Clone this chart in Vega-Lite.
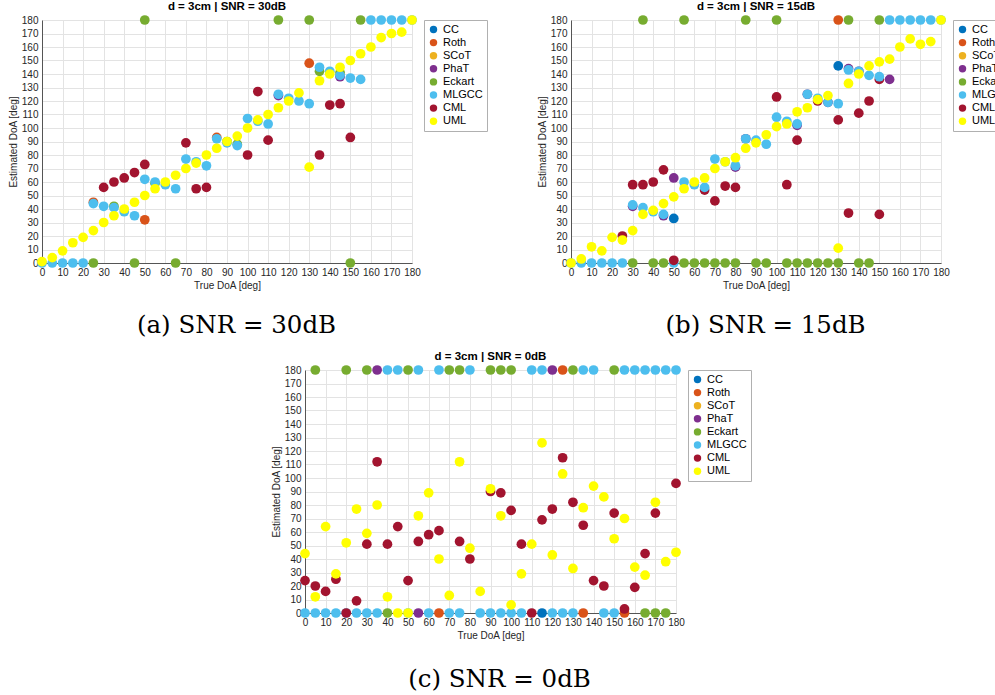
{
  "$schema": "https://vega.github.io/schema/vega-lite/v6.json",
  "background": "white",
  "padding": {"left": 8, "top": 0, "right": 0, "bottom": 0},
  "config": {
    "view": {"stroke": null},
    "font": "Liberation Sans",
    "axis": {"labelFont": "Liberation Sans", "labelFontSize": 10, "labelColor": "#262626", "titleFont": "Liberation Sans", "titleFontSize": 10, "titleFontWeight": "normal", "titleColor": "#262626", "gridColor": "#e3e3e3", "domainColor": "#555555", "ticks": false, "labelPadding": 4, "labelOverlap": false, "labelFlush": false},
    "axisX": {"titlePadding": 3},
    "axisY": {"titlePadding": 3},
    "title": {"font": "Liberation Sans", "fontSize": 11.5, "fontWeight": "bold", "color": "#000000", "offset": 3, "frame": "group"},
    "legend": {"orient": "right", "offset": 12, "padding": 4, "strokeColor": "#b0b0b0", "fillColor": "white", "labelFont": "Liberation Sans", "labelFontSize": 11, "labelColor": "#000000", "symbolSize": 55, "symbolType": "circle", "rowPadding": 1.1, "title": null}
  },
  "datasets": {
    "a": [
      {"m": "Roth", "x": 25, "y": 45}, {"m": "Roth", "x": 50, "y": 32}, {"m": "Roth", "x": 85, "y": 93}, {"m": "Roth", "x": 130, "y": 148},
      {"m": "PhaT", "x": 115, "y": 124}, {"m": "PhaT", "x": 145, "y": 138},
      {"m": "Eckart", "x": 25, "y": 0}, {"m": "Eckart", "x": 35, "y": 42}, {"m": "Eckart", "x": 45, "y": 0}, {"m": "Eckart", "x": 50, "y": 180}, {"m": "Eckart", "x": 55, "y": 59}, {"m": "Eckart", "x": 65, "y": 0}, {"m": "Eckart", "x": 90, "y": 90}, {"m": "Eckart", "x": 95, "y": 88}, {"m": "Eckart", "x": 115, "y": 180}, {"m": "Eckart", "x": 130, "y": 180}, {"m": "Eckart", "x": 135, "y": 142}, {"m": "Eckart", "x": 145, "y": 141}, {"m": "Eckart", "x": 150, "y": 0}, {"m": "Eckart", "x": 155, "y": 180},
      {"m": "MLGCC", "x": 0, "y": 0}, {"m": "MLGCC", "x": 5, "y": 0}, {"m": "MLGCC", "x": 10, "y": 0}, {"m": "MLGCC", "x": 15, "y": 0}, {"m": "MLGCC", "x": 20, "y": 0}, {"m": "MLGCC", "x": 25, "y": 44}, {"m": "MLGCC", "x": 30, "y": 42}, {"m": "MLGCC", "x": 35, "y": 41}, {"m": "MLGCC", "x": 40, "y": 38}, {"m": "MLGCC", "x": 45, "y": 35}, {"m": "MLGCC", "x": 50, "y": 62}, {"m": "MLGCC", "x": 55, "y": 60}, {"m": "MLGCC", "x": 60, "y": 58}, {"m": "MLGCC", "x": 65, "y": 55}, {"m": "MLGCC", "x": 70, "y": 77}, {"m": "MLGCC", "x": 75, "y": 75}, {"m": "MLGCC", "x": 80, "y": 72}, {"m": "MLGCC", "x": 85, "y": 92}, {"m": "MLGCC", "x": 90, "y": 89}, {"m": "MLGCC", "x": 95, "y": 87}, {"m": "MLGCC", "x": 100, "y": 107}, {"m": "MLGCC", "x": 105, "y": 105}, {"m": "MLGCC", "x": 110, "y": 103}, {"m": "MLGCC", "x": 115, "y": 125}, {"m": "MLGCC", "x": 120, "y": 122}, {"m": "MLGCC", "x": 125, "y": 120}, {"m": "MLGCC", "x": 130, "y": 118}, {"m": "MLGCC", "x": 135, "y": 145}, {"m": "MLGCC", "x": 140, "y": 142}, {"m": "MLGCC", "x": 145, "y": 139}, {"m": "MLGCC", "x": 150, "y": 137}, {"m": "MLGCC", "x": 155, "y": 136}, {"m": "MLGCC", "x": 160, "y": 180}, {"m": "MLGCC", "x": 165, "y": 180}, {"m": "MLGCC", "x": 170, "y": 180}, {"m": "MLGCC", "x": 175, "y": 180}, {"m": "MLGCC", "x": 180, "y": 180},
      {"m": "CML", "x": 30, "y": 56}, {"m": "CML", "x": 35, "y": 60}, {"m": "CML", "x": 40, "y": 63}, {"m": "CML", "x": 45, "y": 67}, {"m": "CML", "x": 50, "y": 73}, {"m": "CML", "x": 70, "y": 89}, {"m": "CML", "x": 75, "y": 55}, {"m": "CML", "x": 80, "y": 56}, {"m": "CML", "x": 100, "y": 80}, {"m": "CML", "x": 105, "y": 127}, {"m": "CML", "x": 110, "y": 91}, {"m": "CML", "x": 135, "y": 80}, {"m": "CML", "x": 140, "y": 117}, {"m": "CML", "x": 145, "y": 118}, {"m": "CML", "x": 150, "y": 93},
      {"m": "UML", "x": 0, "y": 1}, {"m": "UML", "x": 5, "y": 4}, {"m": "UML", "x": 10, "y": 9}, {"m": "UML", "x": 15, "y": 15}, {"m": "UML", "x": 20, "y": 19}, {"m": "UML", "x": 25, "y": 24}, {"m": "UML", "x": 30, "y": 30}, {"m": "UML", "x": 35, "y": 35}, {"m": "UML", "x": 40, "y": 40}, {"m": "UML", "x": 45, "y": 45}, {"m": "UML", "x": 50, "y": 50}, {"m": "UML", "x": 55, "y": 55}, {"m": "UML", "x": 60, "y": 60}, {"m": "UML", "x": 65, "y": 65}, {"m": "UML", "x": 70, "y": 70}, {"m": "UML", "x": 75, "y": 74}, {"m": "UML", "x": 80, "y": 80}, {"m": "UML", "x": 85, "y": 85}, {"m": "UML", "x": 90, "y": 90}, {"m": "UML", "x": 95, "y": 94}, {"m": "UML", "x": 100, "y": 100}, {"m": "UML", "x": 105, "y": 106}, {"m": "UML", "x": 110, "y": 110}, {"m": "UML", "x": 115, "y": 115}, {"m": "UML", "x": 120, "y": 120}, {"m": "UML", "x": 125, "y": 126}, {"m": "UML", "x": 130, "y": 71}, {"m": "UML", "x": 135, "y": 135}, {"m": "UML", "x": 140, "y": 140}, {"m": "UML", "x": 145, "y": 145}, {"m": "UML", "x": 150, "y": 150}, {"m": "UML", "x": 155, "y": 155}, {"m": "UML", "x": 160, "y": 160}, {"m": "UML", "x": 165, "y": 167}, {"m": "UML", "x": 170, "y": 170}, {"m": "UML", "x": 175, "y": 171}, {"m": "UML", "x": 180, "y": 180}
    ],
    "b": [
      {"m": "CC", "x": 50, "y": 33}, {"m": "CC", "x": 130, "y": 146},
      {"m": "Roth", "x": 130, "y": 180},
      {"m": "PhaT", "x": 30, "y": 42}, {"m": "PhaT", "x": 45, "y": 35}, {"m": "PhaT", "x": 50, "y": 63}, {"m": "PhaT", "x": 80, "y": 71}, {"m": "PhaT", "x": 85, "y": 92}, {"m": "PhaT", "x": 110, "y": 102}, {"m": "PhaT", "x": 115, "y": 125}, {"m": "PhaT", "x": 125, "y": 119}, {"m": "PhaT", "x": 135, "y": 144}, {"m": "PhaT", "x": 140, "y": 142}, {"m": "PhaT", "x": 155, "y": 136},
      {"m": "Eckart", "x": 35, "y": 180}, {"m": "Eckart", "x": 55, "y": 180}, {"m": "Eckart", "x": 85, "y": 180}, {"m": "Eckart", "x": 100, "y": 180}, {"m": "Eckart", "x": 135, "y": 180}, {"m": "Eckart", "x": 150, "y": 180},
      {"m": "Eckart", "x": 30, "y": 0}, {"m": "Eckart", "x": 40, "y": 0}, {"m": "Eckart", "x": 45, "y": 0}, {"m": "Eckart", "x": 55, "y": 0}, {"m": "Eckart", "x": 60, "y": 0}, {"m": "Eckart", "x": 65, "y": 0}, {"m": "Eckart", "x": 70, "y": 0}, {"m": "Eckart", "x": 75, "y": 0}, {"m": "Eckart", "x": 80, "y": 0}, {"m": "Eckart", "x": 90, "y": 0}, {"m": "Eckart", "x": 95, "y": 0}, {"m": "Eckart", "x": 105, "y": 0}, {"m": "Eckart", "x": 110, "y": 0}, {"m": "Eckart", "x": 115, "y": 0}, {"m": "Eckart", "x": 120, "y": 0}, {"m": "Eckart", "x": 125, "y": 0}, {"m": "Eckart", "x": 130, "y": 0}, {"m": "Eckart", "x": 140, "y": 0}, {"m": "Eckart", "x": 145, "y": 0},
      {"m": "CML", "x": 65, "y": 54}, {"m": "CML", "x": 120, "y": 120}, {"m": "CML", "x": 150, "y": 136},
      {"m": "MLGCC", "x": 0, "y": 0}, {"m": "MLGCC", "x": 5, "y": 0}, {"m": "MLGCC", "x": 10, "y": 0}, {"m": "MLGCC", "x": 15, "y": 0}, {"m": "MLGCC", "x": 20, "y": 0}, {"m": "MLGCC", "x": 25, "y": 0}, {"m": "MLGCC", "x": 30, "y": 43}, {"m": "MLGCC", "x": 35, "y": 41}, {"m": "MLGCC", "x": 40, "y": 38}, {"m": "MLGCC", "x": 45, "y": 36}, {"m": "MLGCC", "x": 50, "y": 0}, {"m": "MLGCC", "x": 55, "y": 60}, {"m": "MLGCC", "x": 60, "y": 58}, {"m": "MLGCC", "x": 65, "y": 56}, {"m": "MLGCC", "x": 70, "y": 77}, {"m": "MLGCC", "x": 75, "y": 75}, {"m": "MLGCC", "x": 80, "y": 72}, {"m": "MLGCC", "x": 85, "y": 92}, {"m": "MLGCC", "x": 90, "y": 91}, {"m": "MLGCC", "x": 95, "y": 88}, {"m": "MLGCC", "x": 100, "y": 108}, {"m": "MLGCC", "x": 105, "y": 105}, {"m": "MLGCC", "x": 110, "y": 103}, {"m": "MLGCC", "x": 115, "y": 125}, {"m": "MLGCC", "x": 120, "y": 122}, {"m": "MLGCC", "x": 125, "y": 119}, {"m": "MLGCC", "x": 130, "y": 118}, {"m": "MLGCC", "x": 135, "y": 143}, {"m": "MLGCC", "x": 140, "y": 142}, {"m": "MLGCC", "x": 145, "y": 139}, {"m": "MLGCC", "x": 150, "y": 138}, {"m": "MLGCC", "x": 155, "y": 180}, {"m": "MLGCC", "x": 160, "y": 180}, {"m": "MLGCC", "x": 165, "y": 180}, {"m": "MLGCC", "x": 170, "y": 180}, {"m": "MLGCC", "x": 175, "y": 180}, {"m": "MLGCC", "x": 180, "y": 180},
      {"m": "CML", "x": 25, "y": 20}, {"m": "CML", "x": 30, "y": 58}, {"m": "CML", "x": 35, "y": 58}, {"m": "CML", "x": 40, "y": 60}, {"m": "CML", "x": 45, "y": 69}, {"m": "CML", "x": 50, "y": 2}, {"m": "CML", "x": 70, "y": 46}, {"m": "CML", "x": 75, "y": 57}, {"m": "CML", "x": 80, "y": 56}, {"m": "CML", "x": 100, "y": 123}, {"m": "CML", "x": 105, "y": 58}, {"m": "CML", "x": 110, "y": 91}, {"m": "CML", "x": 130, "y": 106}, {"m": "CML", "x": 135, "y": 37}, {"m": "CML", "x": 140, "y": 111}, {"m": "CML", "x": 145, "y": 120}, {"m": "CML", "x": 150, "y": 36},
      {"m": "UML", "x": 0, "y": 0}, {"m": "UML", "x": 5, "y": 3}, {"m": "UML", "x": 10, "y": 12}, {"m": "UML", "x": 15, "y": 9}, {"m": "UML", "x": 20, "y": 19}, {"m": "UML", "x": 25, "y": 17}, {"m": "UML", "x": 30, "y": 24}, {"m": "UML", "x": 35, "y": 36}, {"m": "UML", "x": 40, "y": 39}, {"m": "UML", "x": 45, "y": 44}, {"m": "UML", "x": 50, "y": 49}, {"m": "UML", "x": 55, "y": 55}, {"m": "UML", "x": 60, "y": 60}, {"m": "UML", "x": 65, "y": 63}, {"m": "UML", "x": 70, "y": 70}, {"m": "UML", "x": 75, "y": 75}, {"m": "UML", "x": 80, "y": 78}, {"m": "UML", "x": 85, "y": 85}, {"m": "UML", "x": 90, "y": 89}, {"m": "UML", "x": 95, "y": 95}, {"m": "UML", "x": 100, "y": 101}, {"m": "UML", "x": 105, "y": 103}, {"m": "UML", "x": 110, "y": 112}, {"m": "UML", "x": 115, "y": 115}, {"m": "UML", "x": 120, "y": 121}, {"m": "UML", "x": 125, "y": 124}, {"m": "UML", "x": 130, "y": 11}, {"m": "UML", "x": 135, "y": 133}, {"m": "UML", "x": 140, "y": 140}, {"m": "UML", "x": 145, "y": 146}, {"m": "UML", "x": 150, "y": 149}, {"m": "UML", "x": 155, "y": 151}, {"m": "UML", "x": 160, "y": 160}, {"m": "UML", "x": 165, "y": 166}, {"m": "UML", "x": 170, "y": 162}, {"m": "UML", "x": 175, "y": 164}, {"m": "UML", "x": 180, "y": 180}
    ],
    "c": [
      {"m": "CC", "x": 115, "y": 0},
      {"m": "Roth", "x": 65, "y": 0}, {"m": "Roth", "x": 125, "y": 180}, {"m": "Roth", "x": 135, "y": 0}, {"m": "Roth", "x": 155, "y": 0},
      {"m": "PhaT", "x": 35, "y": 180}, {"m": "PhaT", "x": 55, "y": 0}, {"m": "PhaT", "x": 120, "y": 180},
      {"m": "Eckart", "x": 5, "y": 180}, {"m": "Eckart", "x": 20, "y": 180}, {"m": "Eckart", "x": 30, "y": 180}, {"m": "Eckart", "x": 50, "y": 180}, {"m": "Eckart", "x": 70, "y": 180}, {"m": "Eckart", "x": 75, "y": 180}, {"m": "Eckart", "x": 90, "y": 180}, {"m": "Eckart", "x": 95, "y": 180}, {"m": "Eckart", "x": 100, "y": 180}, {"m": "Eckart", "x": 130, "y": 180}, {"m": "Eckart", "x": 150, "y": 180},
      {"m": "Eckart", "x": 40, "y": 0}, {"m": "Eckart", "x": 165, "y": 0}, {"m": "Eckart", "x": 170, "y": 0}, {"m": "Eckart", "x": 175, "y": 0},
      {"m": "MLGCC", "x": 0, "y": 0}, {"m": "MLGCC", "x": 5, "y": 0}, {"m": "MLGCC", "x": 10, "y": 0}, {"m": "MLGCC", "x": 15, "y": 0}, {"m": "MLGCC", "x": 20, "y": 0}, {"m": "MLGCC", "x": 25, "y": 0}, {"m": "MLGCC", "x": 30, "y": 0}, {"m": "MLGCC", "x": 35, "y": 0}, {"m": "MLGCC", "x": 40, "y": 180}, {"m": "MLGCC", "x": 45, "y": 180}, {"m": "MLGCC", "x": 50, "y": 0}, {"m": "MLGCC", "x": 55, "y": 180}, {"m": "MLGCC", "x": 60, "y": 0}, {"m": "MLGCC", "x": 65, "y": 180}, {"m": "MLGCC", "x": 70, "y": 0}, {"m": "MLGCC", "x": 75, "y": 0}, {"m": "MLGCC", "x": 80, "y": 180}, {"m": "MLGCC", "x": 85, "y": 0}, {"m": "MLGCC", "x": 90, "y": 0}, {"m": "MLGCC", "x": 95, "y": 0}, {"m": "MLGCC", "x": 100, "y": 0}, {"m": "MLGCC", "x": 105, "y": 0}, {"m": "MLGCC", "x": 110, "y": 180}, {"m": "MLGCC", "x": 115, "y": 180}, {"m": "MLGCC", "x": 120, "y": 0}, {"m": "MLGCC", "x": 125, "y": 0}, {"m": "MLGCC", "x": 130, "y": 0}, {"m": "MLGCC", "x": 135, "y": 180}, {"m": "MLGCC", "x": 140, "y": 180}, {"m": "MLGCC", "x": 145, "y": 0}, {"m": "MLGCC", "x": 150, "y": 0}, {"m": "MLGCC", "x": 155, "y": 180}, {"m": "MLGCC", "x": 160, "y": 180}, {"m": "MLGCC", "x": 165, "y": 180}, {"m": "MLGCC", "x": 170, "y": 180}, {"m": "MLGCC", "x": 175, "y": 180}, {"m": "MLGCC", "x": 180, "y": 180},
      {"m": "CML", "x": 0, "y": 24}, {"m": "CML", "x": 5, "y": 20}, {"m": "CML", "x": 10, "y": 16}, {"m": "CML", "x": 15, "y": 25}, {"m": "CML", "x": 20, "y": 0}, {"m": "CML", "x": 25, "y": 9}, {"m": "CML", "x": 30, "y": 51}, {"m": "CML", "x": 35, "y": 112}, {"m": "CML", "x": 40, "y": 51}, {"m": "CML", "x": 45, "y": 64}, {"m": "CML", "x": 50, "y": 24}, {"m": "CML", "x": 55, "y": 53}, {"m": "CML", "x": 60, "y": 58}, {"m": "CML", "x": 65, "y": 61}, {"m": "CML", "x": 75, "y": 53}, {"m": "CML", "x": 80, "y": 40}, {"m": "CML", "x": 90, "y": 90}, {"m": "CML", "x": 95, "y": 89}, {"m": "CML", "x": 100, "y": 76}, {"m": "CML", "x": 105, "y": 51}, {"m": "CML", "x": 110, "y": 0}, {"m": "CML", "x": 115, "y": 69}, {"m": "CML", "x": 120, "y": 77}, {"m": "CML", "x": 125, "y": 115}, {"m": "CML", "x": 130, "y": 82}, {"m": "CML", "x": 135, "y": 65}, {"m": "CML", "x": 140, "y": 24}, {"m": "CML", "x": 145, "y": 20}, {"m": "CML", "x": 150, "y": 74}, {"m": "CML", "x": 155, "y": 3}, {"m": "CML", "x": 160, "y": 19}, {"m": "CML", "x": 165, "y": 44}, {"m": "CML", "x": 170, "y": 74}, {"m": "CML", "x": 180, "y": 96},
      {"m": "UML", "x": 0, "y": 44}, {"m": "UML", "x": 5, "y": 12}, {"m": "UML", "x": 10, "y": 64}, {"m": "UML", "x": 15, "y": 29}, {"m": "UML", "x": 20, "y": 52}, {"m": "UML", "x": 25, "y": 77}, {"m": "UML", "x": 30, "y": 59}, {"m": "UML", "x": 35, "y": 80}, {"m": "UML", "x": 40, "y": 12}, {"m": "UML", "x": 45, "y": 0}, {"m": "UML", "x": 50, "y": 0}, {"m": "UML", "x": 55, "y": 72}, {"m": "UML", "x": 60, "y": 89}, {"m": "UML", "x": 65, "y": 40}, {"m": "UML", "x": 70, "y": 13}, {"m": "UML", "x": 75, "y": 112}, {"m": "UML", "x": 80, "y": 48}, {"m": "UML", "x": 85, "y": 16}, {"m": "UML", "x": 90, "y": 92}, {"m": "UML", "x": 95, "y": 72}, {"m": "UML", "x": 100, "y": 6}, {"m": "UML", "x": 105, "y": 29}, {"m": "UML", "x": 110, "y": 51}, {"m": "UML", "x": 115, "y": 126}, {"m": "UML", "x": 120, "y": 43}, {"m": "UML", "x": 125, "y": 103}, {"m": "UML", "x": 130, "y": 33}, {"m": "UML", "x": 135, "y": 78}, {"m": "UML", "x": 140, "y": 94}, {"m": "UML", "x": 145, "y": 86}, {"m": "UML", "x": 150, "y": 55}, {"m": "UML", "x": 155, "y": 70}, {"m": "UML", "x": 160, "y": 34}, {"m": "UML", "x": 165, "y": 28}, {"m": "UML", "x": 170, "y": 82}, {"m": "UML", "x": 175, "y": 38}, {"m": "UML", "x": 180, "y": 45}
    ]
  },
  "spacing": 13,
  "resolve": {"legend": {"color": "independent"}},
  "vconcat": [
    {
      "spacing": 49,
      "resolve": {"legend": {"color": "independent"}},
      "hconcat": [
        {
          "width": 370, "height": 243,
          "title": {"text": "d = 3cm | SNR = 30dB"},
          "resolve": {"scale": {"x": "independent"}, "axis": {"x": "independent"}},
          "layer": [
            {
              "data": {"name": "a"},
              "mark": {"type": "circle", "size": 95, "opacity": 1},
              "encoding": {
                "x": {"field": "x", "type": "quantitative", "scale": {"domain": [0, 180], "nice": false, "zero": false}, "axis": {"title": "True DoA [deg]", "values": [0,10,20,30,40,50,60,70,80,90,100,110,120,130,140,150,160,170,180]}},
                "y": {"field": "y", "type": "quantitative", "scale": {"domain": [0, 180], "nice": false}, "axis": {"title": "Estimated DoA [deg]", "values": [0,10,20,30,40,50,60,70,80,90,100,110,120,130,140,150,160,170,180]}},
                "color": {"field": "m", "type": "nominal", "scale": {"domain": ["CC","Roth","SCoT","PhaT","Eckart","MLGCC","CML","UML"], "range": ["#0072BD","#D95319","#EDB120","#7E2F8E","#77AC30","#4DBEEE","#A2142F","#FFFF00"]}, "legend": {"title": null}}
              }
            },
            {
              "mark": {"type": "rule", "opacity": 0},
              "encoding": {
                "x": {"datum": 90, "type": "quantitative", "scale": {"domain": [0, 180], "nice": false, "zero": false}, "axis": {"orient": "bottom", "title": "(a) SNR = 30dB", "labels": false, "domain": false, "grid": false, "ticks": false, "offset": 50, "titlePadding": 0, "titleFont": "DejaVu Serif", "titleFontSize": 24.5, "titleColor": "#000000", "titleFontWeight": "normal", "titleX": 194}}
              }
            }
          ]
        },
        {
          "width": 370, "height": 243,
          "title": {"text": "d = 3cm | SNR = 15dB"},
          "resolve": {"scale": {"x": "independent"}, "axis": {"x": "independent"}},
          "layer": [
            {
              "data": {"name": "b"},
              "mark": {"type": "circle", "size": 95, "opacity": 1},
              "encoding": {
                "x": {"field": "x", "type": "quantitative", "scale": {"domain": [0, 180], "nice": false, "zero": false}, "axis": {"title": "True DoA [deg]", "values": [0,10,20,30,40,50,60,70,80,90,100,110,120,130,140,150,160,170,180]}},
                "y": {"field": "y", "type": "quantitative", "scale": {"domain": [0, 180], "nice": false}, "axis": {"title": "Estimated DoA [deg]", "values": [0,10,20,30,40,50,60,70,80,90,100,110,120,130,140,150,160,170,180]}},
                "color": {"field": "m", "type": "nominal", "scale": {"domain": ["CC","Roth","SCoT","PhaT","Eckart","MLGCC","CML","UML"], "range": ["#0072BD","#D95319","#EDB120","#7E2F8E","#77AC30","#4DBEEE","#A2142F","#FFFF00"]}, "legend": {"title": null}}
              }
            },
            {
              "mark": {"type": "rule", "opacity": 0},
              "encoding": {
                "x": {"datum": 90, "type": "quantitative", "scale": {"domain": [0, 180], "nice": false, "zero": false}, "axis": {"orient": "bottom", "title": "(b) SNR = 15dB", "labels": false, "domain": false, "grid": false, "ticks": false, "offset": 50, "titlePadding": 0, "titleFont": "DejaVu Serif", "titleFontSize": 24.5, "titleColor": "#000000", "titleFontWeight": "normal", "titleX": 194}}
              }
            }
          ]
        }
      ]
    },
    {
      "spacing": 10,
      "resolve": {"legend": {"color": "independent"}},
      "hconcat": [
        {"width": 219, "height": 1, "data": {"values": []}, "mark": "point", "encoding": {}},
        {
          "width": 371, "height": 243,
          "title": {"text": "d = 3cm | SNR = 0dB"},
          "resolve": {"scale": {"x": "independent"}, "axis": {"x": "independent"}},
          "layer": [
            {
              "data": {"name": "c"},
              "mark": {"type": "circle", "size": 95, "opacity": 1},
              "encoding": {
                "x": {"field": "x", "type": "quantitative", "scale": {"domain": [0, 180], "nice": false, "zero": false}, "axis": {"title": "True DoA [deg]", "values": [0,10,20,30,40,50,60,70,80,90,100,110,120,130,140,150,160,170,180]}},
                "y": {"field": "y", "type": "quantitative", "scale": {"domain": [0, 180], "nice": false}, "axis": {"title": "Estimated DoA [deg]", "values": [0,10,20,30,40,50,60,70,80,90,100,110,120,130,140,150,160,170,180]}},
                "color": {"field": "m", "type": "nominal", "scale": {"domain": ["CC","Roth","SCoT","PhaT","Eckart","MLGCC","CML","UML"], "range": ["#0072BD","#D95319","#EDB120","#7E2F8E","#77AC30","#4DBEEE","#A2142F","#FFFF00"]}, "legend": {"title": null}}
              }
            },
            {
              "mark": {"type": "rule", "opacity": 0},
              "encoding": {
                "x": {"datum": 90, "type": "quantitative", "scale": {"domain": [0, 180], "nice": false, "zero": false}, "axis": {"orient": "bottom", "title": "(c) SNR = 0dB", "labels": false, "domain": false, "grid": false, "ticks": false, "offset": 54, "titlePadding": 0, "titleFont": "DejaVu Serif", "titleFontSize": 24.5, "titleColor": "#000000", "titleFontWeight": "normal", "titleX": 194}}
              }
            }
          ]
        }
      ]
    }
  ]
}
